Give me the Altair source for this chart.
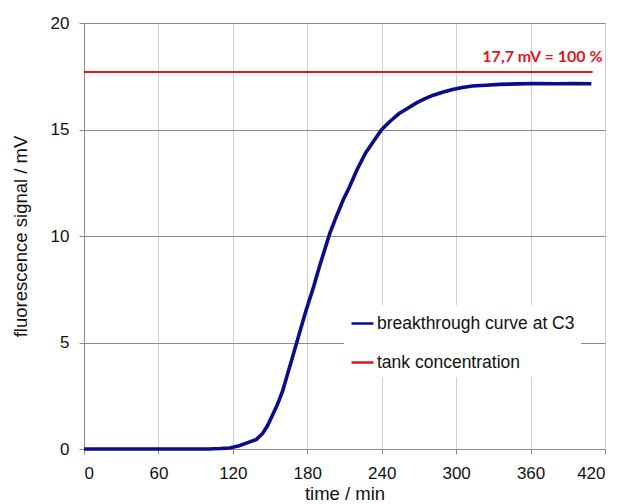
import altair as alt
import pandas as pd

# Breakthrough curve measured at C3 (time in min, signal in mV)
time_min = [0, 20, 40, 60, 80, 100, 110, 117.5, 125, 132, 139, 144, 148, 152,
            156, 160, 164, 168, 174, 179, 185, 190, 198, 204, 209, 214, 220,
            227, 234, 240, 247, 254, 261, 268, 275, 281, 289, 297, 305, 313,
            324, 335, 350, 365, 380, 395, 409]
signal_mv = [0, 0, 0, 0, 0, 0, 0.02, 0.05, 0.15, 0.3, 0.45, 0.73, 1.1, 1.6,
             2.1, 2.7, 3.5, 4.3, 5.5, 6.5, 7.6, 8.6, 10.1, 11.0, 11.7, 12.3, 13.1,
             13.9, 14.5, 15.0, 15.4, 15.75, 16.0, 16.25, 16.45, 16.6, 16.75, 16.88,
             16.97, 17.04, 17.08, 17.12, 17.14, 17.16, 17.15, 17.16, 17.15]

# Tank concentration reference level
tank_time = [0, 410]
tank_mv = 17.7
tank_label = "17,7 mV = 100 %"

series_names = ["breakthrough curve at C3", "tank concentration"]
series_colors = ["#0c0c8a", "#e3141c"]

x_ticks = [0, 60, 120, 180, 240, 300, 360, 420]
y_ticks = [0, 5, 10, 15, 20]

curve = pd.DataFrame({"t": time_min, "v": signal_mv, "series": series_names[0]})
tank = pd.DataFrame({"t": tank_time, "v": [tank_mv] * len(tank_time),
                     "series": series_names[1]})
data = pd.concat([curve, tank], ignore_index=True)

FONT = "Liberation Sans"

x_enc = alt.X("t:Q", scale=alt.Scale(domain=[0, 420], nice=False),
              axis=alt.Axis(values=x_ticks, title="time / min",
                            gridColor="#cfcfcf", gridWidth=1,
                            domainColor="#8c8c8c", tickColor="#8c8c8c",
                            tickSize=5, labelPadding=11, titlePadding=3))
y_enc = alt.Y("v:Q", scale=alt.Scale(domain=[0, 20], nice=False),
              axis=alt.Axis(values=y_ticks, title="fluorescence signal / mV",
                            gridColor="#8c8c8c", gridWidth=1,
                            domainColor="#8c8c8c", tickColor="#8c8c8c",
                            tickSize=5, labelPadding=10, titlePadding=20))

color_enc = alt.Color("series:N",
                      scale=alt.Scale(domain=series_names, range=series_colors),
                      legend=alt.Legend(title=None, orient="none",
                                        legendX=260, legendY=282,
                                        fillColor="white", padding=6,
                                        symbolType="stroke", symbolSize=484,
                                        symbolStrokeWidth=2.5,
                                        labelFont=FONT, labelFontSize=17.5,
                                        labelColor="#111111", labelOffset=2,
                                        labelLimit=400, rowPadding=18))

lines = alt.Chart(data).mark_line().encode(
    x=x_enc, y=y_enc, color=color_enc,
    strokeWidth=alt.condition(alt.datum.series == series_names[0],
                              alt.value(3.6), alt.value(2)),
    order="t:Q",
)

label = alt.Chart(pd.DataFrame({"t": [418], "v": [tank_mv], "txt": [tank_label]})).mark_text(
    align="right", baseline="bottom", dy=-7, font="Lato", fontSize=16,
    fontWeight="bold", color="#e3141c"
).encode(x="t:Q", y="v:Q", text="txt:N")

chart = alt.layer(lines, label).properties(
    width=521, height=426,
    padding={"left": 84, "top": 23, "right": 16, "bottom": 55},
    autosize=alt.AutoSizeParams(type="none"),
).configure_view(stroke=None).configure_axis(
    labelFont=FONT, labelFontSize=17, labelColor="#111111",
    titleFont=FONT, titleFontSize=18.5, titleFontWeight="normal", titleColor="#111111",
)

chart.save("out.html", embed_options={"renderer": "svg", "actions": False})
